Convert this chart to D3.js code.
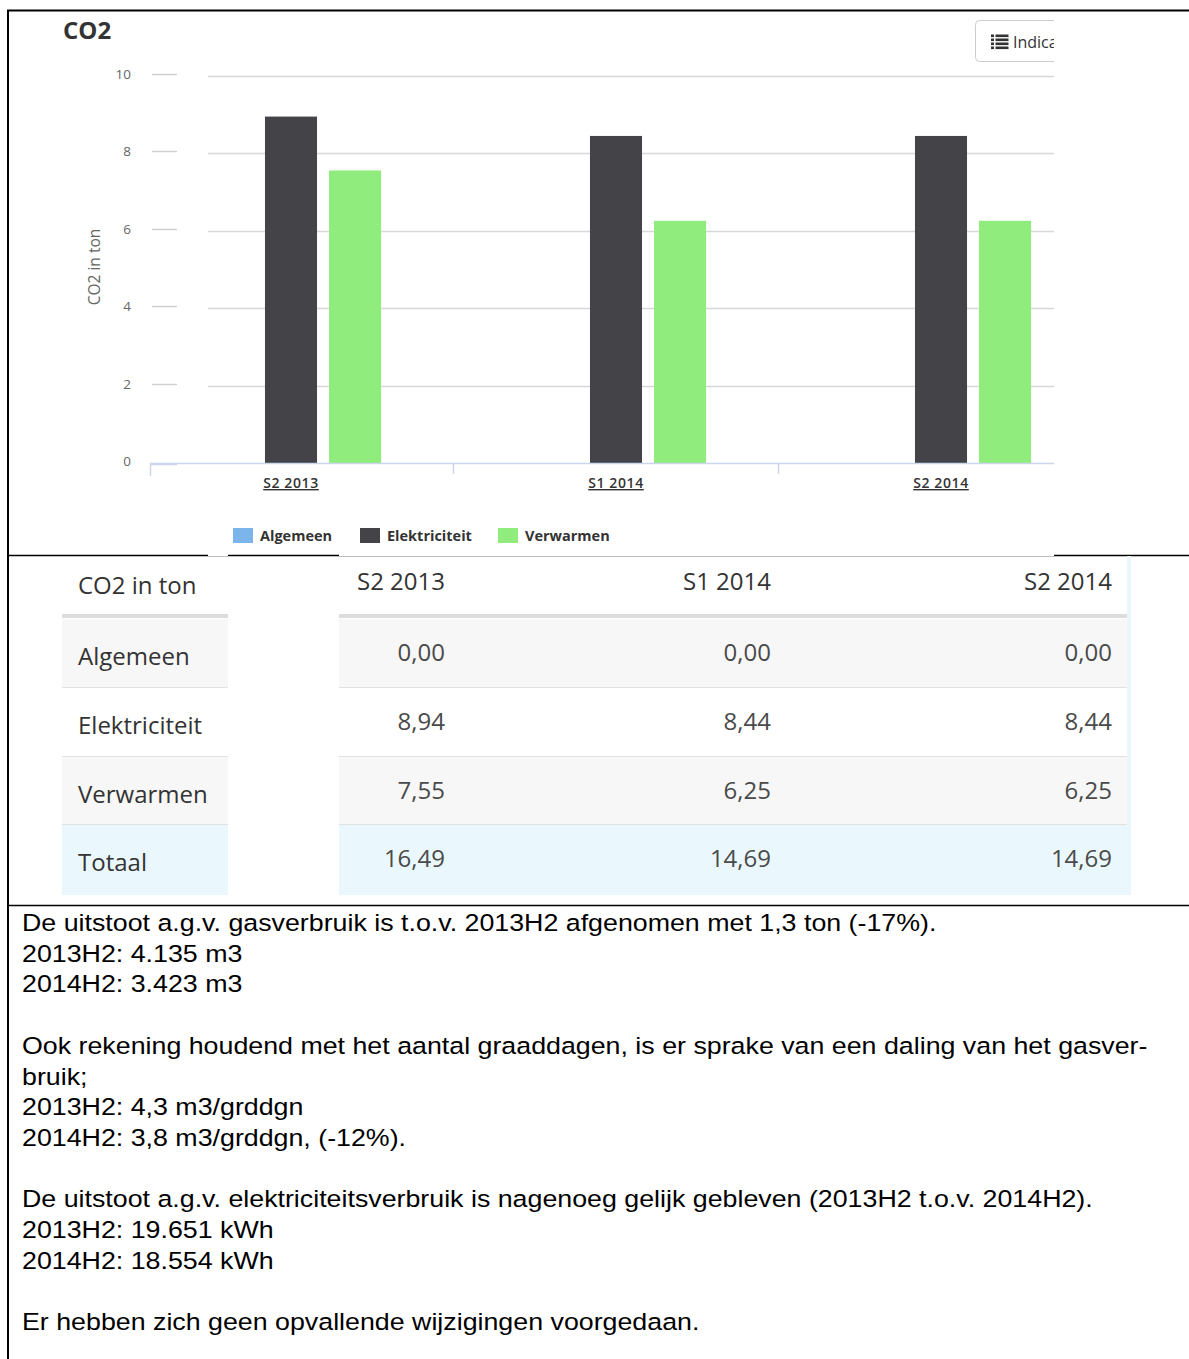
<!DOCTYPE html>
<html>
<head>
<meta charset="utf-8">
<script src="https://cdn.jsdelivr.net/npm/d3@7"></script>
<style>
  html, body { margin: 0; padding: 0; background: #fff; }
  svg { display: block; }
</style>
</head>
<body>
<svg id="page" width="1189" height="1359"></svg>
<script>
// chart data
const categories = ['S2 2013', 'S1 2014', 'S2 2014'];
const seriesNames = ['Algemeen', 'Elektriciteit', 'Verwarmen'];
const seriesColors = ['#7cb5ec', '#434348', '#90ed7d'];
const algemeen = [0.00, 0.00, 0.00];
const elektriciteit = [8.94, 8.44, 8.44];
const verwarmen = [7.55, 6.25, 6.25];
const totaal = [16.49, 14.69, 14.69];
const yTicks = [0, 2, 4, 6, 8, 10];

// note text under the table
const noteLines = [
    'De uitstoot a.g.v. gasverbruik is t.o.v. 2013H2 afgenomen met 1,3 ton (-17%).',
    '2013H2: 4.135 m3',
    '2014H2: 3.423 m3',
    '',
    'Ook rekening houdend met het aantal graaddagen, is er sprake van een daling van het gasver-',
    'bruik;',
    '2013H2: 4,3 m3/grddgn',
    '2014H2: 3,8 m3/grddgn, (-12%).',
    '',
    'De uitstoot a.g.v. elektriciteitsverbruik is nagenoeg gelijk gebleven (2013H2 t.o.v. 2014H2).',
    '2013H2: 19.651 kWh',
    '2014H2: 18.554 kWh',
    '',
    'Er hebben zich geen opvallende wijzigingen voorgedaan.'
];

const seriesValues = [algemeen, elektriciteit, verwarmen];
const fmt = v => d3.format('.2f')(v).replace('.', ',');

let svg = d3.select('#page');

// ---------- document frame (the table around the pasted image) ----------
let frame = svg.append('g').attr('stroke', '#000');
frame.append('line').attr('x1', 7).attr('x2', 1189).attr('y1', 10.5).attr('y2', 10.5).attr('stroke-width', 2);
frame.append('line').attr('x1', 8).attr('x2', 8).attr('y1', 10).attr('y2', 1359).attr('stroke-width', 2);
frame.append('line').attr('x1', 7).attr('x2', 1189).attr('y1', 555.5).attr('y2', 555.5).attr('stroke-width', 1.6);
frame.append('line').attr('x1', 7).attr('x2', 1189).attr('y1', 905.5).attr('y2', 905.5).attr('stroke-width', 1.6);

// ---------- chart image ----------
svg.append('defs').append('clipPath').attr('id', 'chartClip')
    .append('rect').attr('x', 10).attr('y', 12).attr('width', 1044).attr('height', 543);

// white cover where the screenshot hides the frame line
svg.append('rect').attr('x', 339).attr('y', 540).attr('width', 715).attr('height', 16).attr('fill', '#fff');
svg.append('rect').attr('x', 208).attr('y', 540).attr('width', 20).attr('height', 16).attr('fill', '#fff');

let chart = svg.append('g').attr('clip-path', 'url(#chartClip)')
    .style('font-family', '"Open Sans", sans-serif');

let x = d3.scaleBand().domain(categories).range([128.5, 1103.5]);
let xInner = d3.scaleBand().domain(seriesNames).range([0, x.bandwidth()])
    .paddingInner(0.1875).paddingOuter(1.13);
let y = d3.scaleLinear().domain([0, 10]).range([463, 75.5]);

chart.append('text').attr('x', 63).attr('y', 39)
    .attr('font-size', 24).attr('font-weight', 700).attr('fill', '#333')
    .text('CO2');

// gridlines
chart.append('g').selectAll('line').data(yTicks.filter(d => d > 0)).enter().append('line')
    .attr('x1', 208).attr('x2', 1054)
    .attr('y1', d => Math.round(y(d)) + 0.5).attr('y2', d => Math.round(y(d)) + 0.5)
    .attr('stroke', '#d8d8d8').attr('stroke-width', 1.5);

// short tick strokes next to the labels
chart.append('g').selectAll('line').data(yTicks.filter(d => d > 0)).enter().append('line')
    .attr('x1', 152).attr('x2', 177)
    .attr('y1', d => Math.round(y(d)) - 1.5).attr('y2', d => Math.round(y(d)) - 1.5)
    .attr('stroke', '#d0d0d0').attr('stroke-width', 1.5);

chart.append('g').selectAll('text').data(yTicks).enter().append('text')
    .attr('x', 131).attr('y', d => y(d) + 3)
    .attr('text-anchor', 'end').attr('font-size', 13.5).attr('fill', '#666')
    .text(d => d);

chart.append('text')
    .attr('transform', `translate(100,267) rotate(-90)`)
    .attr('text-anchor', 'middle').attr('font-size', 15.5).attr('fill', '#666')
    .text('CO2 in ton');

// bars
let groups = chart.append('g').selectAll('g').data(categories).enter().append('g')
    .attr('transform', d => `translate(${x(d)},0)`);

groups.selectAll('rect')
    .data((c, i) => seriesNames.map((s, k) => ({series: s, value: seriesValues[k][i], color: seriesColors[k]})))
    .enter().append('rect')
    .attr('x', d => xInner(d.series))
    .attr('width', xInner.bandwidth())
    .attr('y', d => y(d.value))
    .attr('height', d => y(0) - y(d.value))
    .attr('fill', d => d.color);

// x axis
let xAxis = chart.append('g').attr('stroke', '#ccd6eb').attr('stroke-width', 1.5);
xAxis.append('line').attr('x1', 150).attr('x2', 1054).attr('y1', 463.5).attr('y2', 463.5);
xAxis.append('line').attr('x1', 150.5).attr('x2', 150.5).attr('y1', 463).attr('y2', 476);
xAxis.append('line').attr('x1', 150).attr('x2', 177).attr('y1', 464.5).attr('y2', 464.5);
xAxis.selectAll('line.tick').data(categories.slice(1)).enter().append('line')
    .attr('class', 'tick')
    .attr('x1', d => Math.round(x(d)) - 0.5).attr('x2', d => Math.round(x(d)) - 0.5)
    .attr('y1', 463).attr('y2', 474);

chart.append('g').selectAll('text').data(categories).enter().append('text')
    .attr('x', d => x(d) + x.bandwidth() / 2).attr('y', 488)
    .attr('text-anchor', 'middle').attr('font-size', 14).attr('font-weight', 600)
    .attr('letter-spacing', 0.6)
    .attr('fill', '#333').attr('text-decoration', 'underline')
    .text(d => d);

// legend
let legendX = [233, 360, 498];
let legend = chart.append('g').selectAll('g').data(seriesNames).enter().append('g')
    .attr('transform', (d, i) => `translate(${legendX[i]},528)`);
legend.append('rect').attr('width', 20).attr('height', 15).attr('fill', (d, i) => seriesColors[i]);
legend.append('text').attr('x', 27).attr('y', 13)
    .attr('font-size', 14.5).attr('font-weight', 700).attr('fill', '#333')
    .text(d => d);

// menu button (cut off by the screenshot edge)
let btn = chart.append('g').attr('transform', 'translate(975.5,20.5)');
btn.append('rect').attr('width', 120).attr('height', 41).attr('rx', 4)
    .attr('fill', '#fff').attr('stroke', '#ccc');
[0, 4, 8, 12].forEach(dy => {
    btn.append('rect').attr('x', 15.5).attr('y', 14 + dy).attr('width', 3).attr('height', 2.6).attr('fill', '#333');
    btn.append('rect').attr('x', 20).attr('y', 14 + dy).attr('width', 13).attr('height', 2.6).attr('fill', '#333');
});
btn.append('text').attr('x', 37.5).attr('y', 27).attr('font-size', 16).attr('fill', '#333').text('Indicatoren');

// ---------- data table ----------
let table = svg.append('g').style('font-family', '"Open Sans", sans-serif');
table.append('rect').attr('x', 50).attr('y', 557).attr('width', 1081).attr('height', 347).attr('fill', '#fff');

let rowTop = [619, 688, 757, 825];
let rowH = [69, 69, 68, 70];
let rowFill = ['#f7f7f7', '#ffffff', '#f7f7f7', '#eaf8fd'];
let rowLabels = seriesNames.concat(['Totaal']);
let rowValues = seriesValues.concat([totaal]);
let spans = [[62, 166], [339, 792]];
let valueRight = [445, 771, 1112];

// header
table.append('text').attr('x', 78).attr('y', 594)
    .attr('font-size', 24).attr('fill', '#333').text('CO2 in ton');
table.selectAll('text.head').data(categories).enter().append('text')
    .attr('class', 'head')
    .attr('x', (d, i) => valueRight[i]).attr('y', 590)
    .attr('text-anchor', 'end').attr('font-size', 24).attr('fill', '#333')
    .text(d => d);
spans.forEach(s => {
    table.append('rect').attr('x', s[0]).attr('y', 614).attr('width', s[1]).attr('height', 4).attr('fill', '#dddddd');
});

let rows = table.selectAll('g.row').data(rowLabels).enter().append('g').attr('class', 'row');
spans.forEach(s => {
    rows.append('rect').attr('x', s[0]).attr('y', (d, i) => rowTop[i])
        .attr('width', s[1]).attr('height', (d, i) => rowH[i])
        .attr('fill', (d, i) => rowFill[i]);
    rows.filter((d, i) => i < 3).append('rect').attr('x', s[0]).attr('y', (d, i) => rowTop[i] + rowH[i] - 1)
        .attr('width', s[1]).attr('height', 1.5).attr('fill', '#e2e2e2');
});
rows.append('text').attr('x', 78).attr('y', (d, i) => rowTop[i] + 46)
    .attr('font-size', 24).attr('fill', '#333').text(d => d);
rows.each(function (d, r) {
    d3.select(this).selectAll('text.val').data(rowValues[r]).enter().append('text')
        .attr('class', 'val')
        .attr('x', (v, i) => valueRight[i]).attr('y', rowTop[r] + 42)
        .attr('text-anchor', 'end').attr('font-size', 24).attr('fill', '#4a4a4a')
        .text(v => fmt(v));
});
// thin light-blue edge on the right of the table image
table.append('rect').attr('x', 1127).attr('y', 556).attr('width', 4).attr('height', 336).attr('fill', '#eaf8fd');

// ---------- notes ----------
svg.append('g').selectAll('text').data(noteLines).enter().append('text')
    .attr('transform', (d, i) => `translate(22,${931 + i * 30.7}) scale(1.14,1)`)
    .attr('font-family', '"Liberation Sans", Arial, sans-serif')
    .attr('font-size', 23.5).attr('fill', '#000')
    .text(d => d);
</script>
</body>
</html>
